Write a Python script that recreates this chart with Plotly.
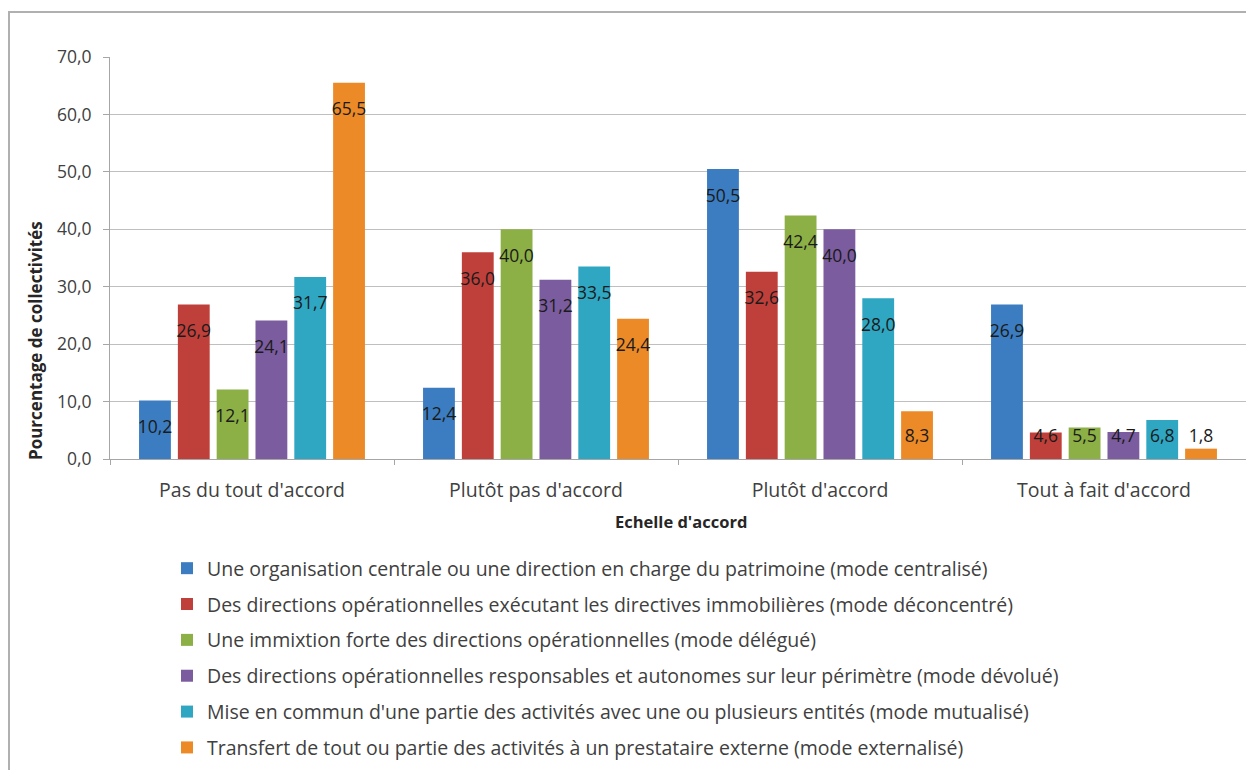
import plotly.graph_objects as go

categories = ["Pas du tout d'accord", "Plutôt pas d'accord", "Plutôt d'accord", "Tout à fait d'accord"]

series_names = [
    "Une organisation centrale ou une direction en charge du patrimoine (mode centralisé)",
    "Des directions opérationnelles exécutant les directives immobilières (mode déconcentré)",
    "Une immixtion forte des directions opérationnelles (mode délégué)",
    "Des directions opérationnelles responsables et autonomes sur leur périmètre (mode dévolué)",
    "Mise en commun d'une partie des activités avec une ou plusieurs entités (mode mutualisé)",
    "Transfert de tout ou partie des activités à un prestataire externe (mode externalisé)",
]

centralise = [10.2, 12.4, 50.5, 26.9]
deconcentre = [26.9, 36.0, 32.6, 4.6]
delegue = [12.1, 40.0, 42.4, 5.5]
devolue = [24.1, 31.2, 40.0, 4.7]
mutualise = [31.7, 33.5, 28.0, 6.8]
externalise = [65.5, 24.4, 8.3, 1.8]

series_values = [centralise, deconcentre, delegue, devolue, mutualise, externalise]

y_ticks = [0, 10, 20, 30, 40, 50, 60, 70]
y_tick_labels = ["0,0", "10,0", "20,0", "30,0", "40,0", "50,0", "60,0", "70,0"]

colors = ["#3B7DC0", "#BF403A", "#8CB045", "#7A5C9F", "#2FA7C3", "#EC8A28"]

FONT = "Open Sans"
TXT = "#404040"
FIG_H = 762

fig = go.Figure()

for i, (name, vals) in enumerate(zip(series_names, series_values)):
    fig.add_trace(go.Bar(
        x=categories, y=vals, name=name,
        marker=dict(color=colors[i], line=dict(width=0)),
        offsetgroup=str(i), alignmentgroup="bars",
        legendgroup=str(i),
        hoverinfo="skip",
    ))

for i, vals in enumerate(series_values):
    label_y = [max(v - 4.9, 3.8) for v in vals]
    fig.add_trace(go.Scatter(
        x=categories, y=label_y, mode="text",
        text=[f"{v:.1f}".replace(".", ",") for v in vals],
        textposition="middle center",
        textfont=dict(family=FONT, size=17.5, color="#1a1a1a"),
        offsetgroup=str(i), alignmentgroup="labels",
        showlegend=False, hoverinfo="skip",
    ))

fig.update_layout(
    width=1238, height=FIG_H,
    margin=dict(l=102, r=0, t=49, b=311),
    paper_bgcolor="white", plot_bgcolor="white",
    barmode="group", bargap=0.18, bargroupgap=0.18,
    scattermode="group", scattergap=0.18,
    font=dict(family=FONT, color=TXT),
    legend=dict(
        x=(167 - 110) / 1136, y=1 - (549 - 8) / FIG_H, xref="paper", yref="container",
        xanchor="left", yanchor="top",
        orientation="v", traceorder="grouped",
        font=dict(family=FONT, size=19.5, color=TXT),
        tracegroupgap=7.5, itemwidth=30,
        bgcolor="rgba(0,0,0,0)",
    ),
    xaxis=dict(
        type="category", showgrid=False,
        showline=True, linecolor="#a6a6a6", linewidth=1,
        ticks="outside", tickson="boundaries", ticklen=5, tickcolor="#a6a6a6",
        tickfont=dict(family=FONT, size=19.5, color=TXT),
        ticklabelstandoff=14,
    ),
    yaxis=dict(
        range=[0, 70], tickvals=y_ticks, ticktext=y_tick_labels,
        showgrid=True, gridcolor="#bfbfbf", gridwidth=1,
        showline=True, linecolor="#a6a6a6", linewidth=1,
        ticks="outside", ticklen=6, tickcolor="#a6a6a6",
        tickfont=dict(family=FONT, size=17.5, color=TXT),
        ticklabelstandoff=8,
        zeroline=False,
    ),
    annotations=[
        dict(text="<b>Pourcentage de collectivités</b>", xref="paper", yref="paper",
             x=(35 - 110) / 1136, y=(459 - 341) / 402, textangle=-90, showarrow=False,
             font=dict(family=FONT, size=17, color="#262626"),
             xanchor="center", yanchor="middle"),
        dict(text="<b>Echelle d'accord</b>", xref="paper", yref="paper",
             x=(681 - 110) / 1136, y=(459 - 521) / 402, showarrow=False,
             font=dict(family=FONT, size=16.5, color="#262626"),
             xanchor="center", yanchor="middle"),
    ],
    shapes=[
        dict(type="rect", xref="paper", yref="paper",
             x0=(9 - 110) / 1136, y0=-0.9, x1=1.05, y1=(459 - 12) / 402,
             line=dict(color="#b0b0b0", width=2), fillcolor="rgba(0,0,0,0)",
             layer="below"),
    ],
)

fig.write_html("out.html")
